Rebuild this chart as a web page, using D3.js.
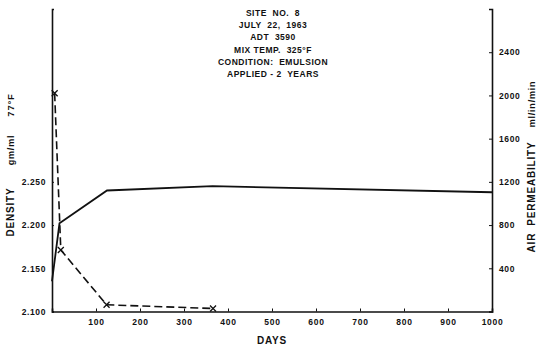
<!DOCTYPE html>
<html>
<head>
<meta charset="utf-8">
<script src="https://cdn.jsdelivr.net/npm/d3@7"></script>
<style>
  body { margin: 0; background: #fff; }
  svg text { font-family: "Liberation Sans", Arial, sans-serif; font-weight: bold; fill: #111; white-space: pre; }
</style>
</head>
<body>
<div id="chart"></div>
<script>
// days vs density (solid) and air permeability (dashed, x markers)
const densityDays = [0, 17, 125, 365, 1000];
const densityValues = [2.135, 2.202, 2.240, 2.245, 2.238];
const permDays = [6, 20, 124, 366];
const permValues = [2020, 570, 62, 28];

const dayTicks = [100, 200, 300, 400, 500, 600, 700, 800, 900, 1000];
const densityTicks = [2.100, 2.150, 2.200, 2.250];
const permTicks = [400, 800, 1200, 1600, 2000, 2400];

const titleLines = ["SITE  NO.  8", "JULY  22,  1963", "ADT  3590", "MIX TEMP.  325°F", "CONDITION:  EMULSION", "APPLIED - 2  YEARS"];

const width = 539, height = 349;
const plotLeft = 52, plotRight = 492, plotTop = 9, plotBottom = 311.5;

const svg = d3.select('#chart').append('svg')
    .attr('width', width)
    .attr('height', height);

const x = d3.scaleLinear().domain([0, 1000]).range([plotLeft, plotRight]);
const yL = d3.scaleLinear().domain([2.100, 2.450]).range([plotBottom, plotTop]);
const yR = d3.scaleLinear().domain([0, 2800]).range([plotBottom, plotTop]);

// bottom axis
const xAxis = d3.axisBottom(x).tickValues(dayTicks).tickSize(-3).tickPadding(7).tickFormat(d3.format('d'));
const gx = svg.append('g').attr('transform', `translate(0,${plotBottom})`).call(xAxis);
gx.select('.domain').attr('stroke', '#111').attr('stroke-width', 1.6);
gx.selectAll('.tick line').attr('stroke', '#111');
gx.selectAll('.tick text').style('font-size', '8.5px').attr('letter-spacing', '0.7px');

// left axis
const yAxisL = d3.axisLeft(yL).tickValues(densityTicks).tickSize(-2).tickPadding(6).tickFormat(d3.format('.3f'));
const gl = svg.append('g').attr('transform', `translate(${plotLeft},0)`).call(yAxisL);
gl.select('.domain').attr('stroke', '#111').attr('stroke-width', 1.6);
gl.selectAll('.tick line').attr('stroke', '#111');
gl.selectAll('.tick text').style('font-size', '8.5px').attr('letter-spacing', '0.6px');

// right axis
const yAxisR = d3.axisRight(yR).tickValues(permTicks).tickSize(-3).tickPadding(7).tickFormat(d3.format('d'));
const gr = svg.append('g').attr('transform', `translate(${plotRight},0)`).call(yAxisR);
gr.select('.domain').attr('stroke', '#111').attr('stroke-width', 1.6);
gr.selectAll('.tick line').attr('stroke', '#111');
gr.selectAll('.tick text').style('font-size', '8.5px').attr('letter-spacing', '0.6px');

// density line
const lineD = d3.line().x((d, i) => x(densityDays[i])).y(d => yL(d));
svg.append('path')
    .datum(densityValues)
    .attr('d', lineD)
    .attr('fill', 'none')
    .attr('stroke', '#111')
    .attr('stroke-width', 1.8);

// air permeability line
const lineP = d3.line().x((d, i) => x(permDays[i])).y(d => yR(d));
svg.append('path')
    .datum(permValues)
    .attr('d', lineP)
    .attr('fill', 'none')
    .attr('stroke', '#111')
    .attr('stroke-width', 1.6)
    .attr('stroke-dasharray', '8,4');

svg.selectAll('.marker')
    .data(permValues)
    .enter()
    .append('path')
    .attr('class', 'marker')
    .attr('transform', (d, i) => `translate(${x(permDays[i])},${yR(d)})`)
    .attr('d', 'M-3,-3L3,3M-3,3L3,-3')
    .attr('stroke', '#111')
    .attr('stroke-width', 1.3);

// title block
svg.append('g').selectAll('text')
    .data(titleLines)
    .enter()
    .append('text')
    .attr('x', 273)
    .attr('y', (d, i) => 16 + i * 12.2)
    .attr('text-anchor', 'middle')
    .style('font-size', '8.5px')
    .attr('letter-spacing', '0.5px')
    .text(d => d);

// axis titles
svg.append('text')
    .attr('x', (plotLeft + plotRight) / 2)
    .attr('y', 344)
    .attr('text-anchor', 'middle')
    .style('font-size', '10px')
    .attr('letter-spacing', '0.8px')
    .text('DAYS');

const leftLabels = [["DENSITY", 212, '10px'], ["gm/ml", 150, '9px'], ["77°F", 105, '9.5px']];
leftLabels.forEach(([t, cy, fs]) => {
    svg.append('text')
        .attr('transform', `translate(14,${cy}) rotate(-90)`)
        .attr('text-anchor', 'middle')
        .style('font-size', fs)
        .attr('letter-spacing', '0.8px')
        .text(t);
});

const rightLabels = [["AIR  PERMEABILITY", 197, '10px'], ["ml/in/min", 104, '9px']];
rightLabels.forEach(([t, cy, fs]) => {
    svg.append('text')
        .attr('transform', `translate(535,${cy}) rotate(-90)`)
        .attr('text-anchor', 'middle')
        .style('font-size', fs)
        .attr('letter-spacing', '0.8px')
        .text(t);
});
</script>
</body>
</html>
